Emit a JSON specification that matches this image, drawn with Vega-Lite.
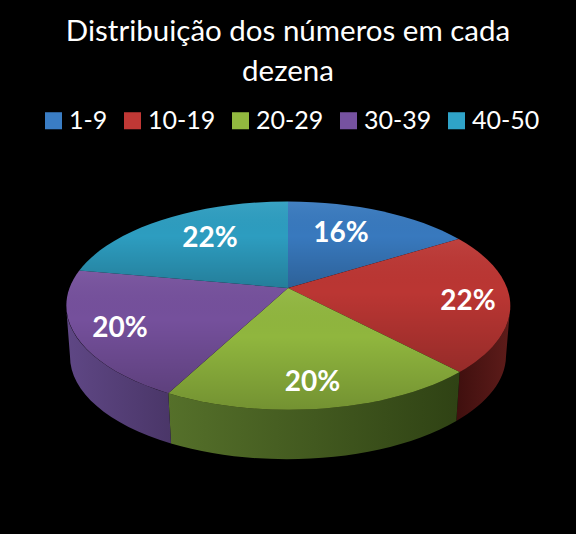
{
  "$schema": "https://vega.github.io/schema/vega-lite/v6.json",
  "width": 576,
  "height": 534,
  "padding": 0,
  "autosize": {"type": "none"},
  "background": "#000000",
  "title": {"text": ["Distribuição dos números em cada", "dezena"],
            "font": "Lato", "fontSize": 29.5, "fontWeight": "normal", "color": "#ffffff",
            "anchor": "middle", "frame": "group", "orient": "top", "baseline": "alphabetic",
            "lineHeight": 40, "offset": 0, "dy": 110},
  "config": {"view": {"stroke": "transparent"}},
  "data": {"values": [
    {"ordem": 1, "dezena": "1-9", "pct": 0.16},
    {"ordem": 2, "dezena": "10-19", "pct": 0.22},
    {"ordem": 3, "dezena": "20-29", "pct": 0.20},
    {"ordem": 4, "dezena": "30-39", "pct": 0.20},
    {"ordem": 5, "dezena": "40-50", "pct": 0.22}
  ]},
  "layer": [
    {"mark": {"type": "point", "filled": true, "opacity": 0, "size": 0},
     "encoding": {
       "color": {"field": "dezena", "type": "nominal",
                 "scale": {"domain": ["1-9", "10-19", "20-29", "30-39", "40-50"],
                           "range": ["#3a7dc4", "#c03835", "#92b93f", "#7652a0", "#2fa3c8"]},
                 "legend": {"orient": "none", "legendX": 41, "legendY": 108, "direction": "horizontal",
                            "columns": 5, "gridAlign": "each", "title": null, "symbolType": "square",
                            "symbolSize": 290, "symbolOpacity": 1, "symbolStrokeWidth": 0,
                            "labelFont": "Lato", "labelFontSize": 25, "labelColor": "#ffffff",
                            "labelOffset": 3, "columnPadding": 12, "labelLimit": 200}}
     }},
    {"transform": [{"filter": "datum.ordem == 2"}],
     "mark": {"type": "point", "filled": true, "opacity": 1, "size": 4, "strokeWidth": 0,
              "shape": "M222.3 38.75 A222.3 104.25 0 0 1 171.7 105 L168.3 154 A218 103 0 0 0 218 89.5 Z",
              "color": {"gradient": "linear", "x1": 0, "y1": 0, "x2": 1, "y2": 0, "stops": [{"offset": 0, "color": "#3f0f0e"}, {"offset": 1, "color": "#5e1c1a"}]}},
     "encoding": {}},
    {"transform": [{"filter": "datum.ordem == 3"}],
     "mark": {"type": "point", "filled": true, "opacity": 1, "size": 4, "strokeWidth": 0,
              "shape": "M171.7 105 A222.3 104.25 0 0 1 -119.7 126.2 L-117 176.5 A218 103 0 0 0 168.3 154 Z",
              "color": {"gradient": "linear", "x1": 0, "y1": 0, "x2": 1, "y2": 0, "stops": [{"offset": 0, "color": "#55702a"}, {"offset": 1, "color": "#2f4214"}]}},
     "encoding": {}},
    {"transform": [{"filter": "datum.ordem == 4"}],
     "mark": {"type": "point", "filled": true, "opacity": 1, "size": 4, "strokeWidth": 0,
              "shape": "M-119.7 126.2 A222.3 104.25 0 0 1 -222 38 L-218 89.5 A218 103 0 0 0 -117 176.5 Z",
              "color": {"gradient": "linear", "x1": 0, "y1": 0, "x2": 1, "y2": 0, "stops": [{"offset": 0, "color": "#5f4785"}, {"offset": 1, "color": "#4a3668"}]}},
     "encoding": {}},
    {"mark": {"type": "point", "filled": true, "opacity": 1, "size": 4, "strokeWidth": 0},
     "encoding": {
       "shape": {"field": "dezena", "type": "nominal", "legend": null,
                 "scale": {"domain": ["1-9", "10-19", "20-29", "30-39", "40-50"],
                           "range": ["M0 21 L0 -65.5 A222.3 104.25 0 0 1 170.7 -28 Z",
                                     "M0 21 L170.7 -28 A222.3 104.25 0 0 1 171.7 105 Z",
                                     "M0 21 L171.7 105 A222.3 104.25 0 0 1 -119.7 126.2 Z",
                                     "M0 21 L-119.7 126.2 A222.3 104.25 0 0 1 -208.7 3.5 Z",
                                     "M0 21 L-208.7 3.5 A222.3 104.25 0 0 1 0 -65.5 Z"]}},
       "color": {"field": "dezena", "type": "nominal", "legend": null,
                 "scale": {"domain": ["1-9", "10-19", "20-29", "30-39", "40-50"],
                           "range": ["#3879be", "#bb3633", "#90b63e", "#75509c", "#2d9dc0"]}}
     }},
    {"mark": {"type": "point", "filled": true, "opacity": 1, "size": 4, "strokeWidth": 0,
              "color": {"gradient": "linear", "x1": 0, "y1": 0, "x2": 0, "y2": 1,
                        "stops": [{"offset": 0, "color": "rgba(255,255,255,0.06)"}, {"offset": 0.4, "color": "rgba(0,0,0,0)"}, {"offset": 1, "color": "rgba(0,0,0,0.2)"}]}},
     "encoding": {
       "shape": {"field": "dezena", "type": "nominal", "legend": null,
                 "scale": {"domain": ["1-9", "10-19", "20-29", "30-39", "40-50"],
                           "range": ["M0 21 L0 -65.5 A222.3 104.25 0 0 1 170.7 -28 Z",
                                     "M0 21 L170.7 -28 A222.3 104.25 0 0 1 171.7 105 Z",
                                     "M0 21 L171.7 105 A222.3 104.25 0 0 1 -119.7 126.2 Z",
                                     "M0 21 L-119.7 126.2 A222.3 104.25 0 0 1 -208.7 3.5 Z",
                                     "M0 21 L-208.7 3.5 A222.3 104.25 0 0 1 0 -65.5 Z"]}}
     }},
    {"mark": {"type": "text", "font": "Lato", "fontWeight": "bold", "fontSize": 28, "color": "#ffffff", "align": "center", "baseline": "middle", "dy": 2},
     "encoding": {
       "x": {"field": "ordem", "type": "quantitative", "axis": null,
             "scale": {"domain": [1, 2, 3, 4, 5], "range": [341, 468, 312.5, 120, 210], "zero": false, "nice": false}},
       "y": {"field": "ordem", "type": "quantitative", "axis": null,
             "scale": {"domain": [1, 2, 3, 4, 5], "range": [232, 300, 381, 327, 237], "zero": false, "nice": false}},
       "text": {"field": "pct", "type": "quantitative", "format": ".0%"}
     }}
  ],
  "resolve": {"scale": {"color": "independent", "shape": "independent"}}
}
